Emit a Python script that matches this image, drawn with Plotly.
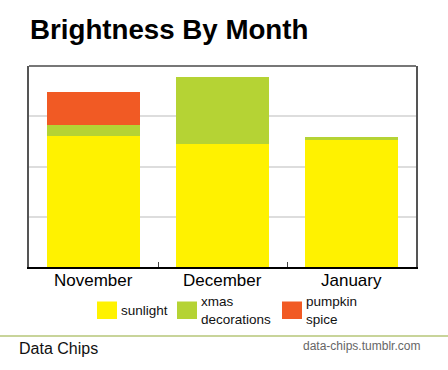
import plotly.graph_objects as go

months = ["November", "December", "January"]
series_names = ["sunlight", "xmas<br>decorations", "pumpkin<br>spice"]
sunlight = [2.60, 2.45, 2.53]
xmas = [0.22, 1.33, 0.05]
pumpkin = [0.67, 0.0, 0.0]
colors = ["#fff200", "#b5d334", "#f15a24"]

W, H = 448, 370
L, R, T, B = 29, 32, 66, 103
PW, PH = W - L - R, H - T - B

def px(x):
    return (x - L) / PW

def py(y):
    return (H - B - y) / PH

fig = go.Figure()
for name, vals, col in zip(series_names, [sunlight, xmas, pumpkin], colors):
    fig.add_trace(go.Bar(x=months, y=vals, name=name, marker=dict(color=col, line=dict(width=0)),
                         showlegend=False))

shapes = []
annotations = []
# top frame line
shapes.append(dict(type="line", xref="paper", yref="paper", x0=0, x1=1, y0=1, y1=1,
                   line=dict(color="#777777", width=2)))
# footer line
shapes.append(dict(type="line", xref="paper", yref="paper", x0=px(0), x1=px(448), y0=py(336), y1=py(336),
                   line=dict(color="#c8d49a", width=2)))

# category labels
for m in months:
    annotations.append(dict(text=m, xref="x", yref="paper", x=m, y=py(280),
                            xanchor="center", yanchor="middle", showarrow=False,
                            font=dict(size=17, color="black", family="Liberation Sans, Arial")))

# legend
leg_x = [97, 177, 282]
for i, (name, col) in enumerate(zip(series_names, colors)):
    shapes.append(dict(type="rect", xref="paper", yref="paper", x0=px(leg_x[i]), x1=px(leg_x[i] + 20),
                       y0=py(319), y1=py(301.5), fillcolor=col, line=dict(width=0)))
    annotations.append(dict(text=name, xref="paper", yref="paper", x=px(leg_x[i] + 22), y=py(310.5),
                            xanchor="left", yanchor="middle", showarrow=False, align="left",
                            font=dict(size=13.5, color="#111111", family="Liberation Sans, Arial")))

annotations.append(dict(text="Data Chips", xref="paper", yref="paper", x=px(17), y=py(348),
                        xanchor="left", yanchor="middle", showarrow=False,
                        font=dict(size=16, color="#111111", family="Liberation Sans, Arial")))
annotations.append(dict(text="data-chips.tumblr.com", xref="paper", yref="paper", x=px(422), y=py(346),
                        xanchor="right", yanchor="middle", showarrow=False,
                        font=dict(size=12, color="#666666", family="Liberation Sans, Arial")))

fig.update_layout(
    width=W, height=H,
    margin=dict(l=L, r=R, t=T, b=B),
    barmode="stack", bargap=0.28,
    plot_bgcolor="white", paper_bgcolor="white",
    title=dict(text="<b>Brightness By Month</b>", xref="container", yref="container",
               x=30 / W, xanchor="left", y=1 - 29 / H, yanchor="middle",
               font=dict(size=27.7, color="black", family="Liberation Sans, Arial")),
    xaxis=dict(showline=True, linecolor="black", linewidth=1.5, ticks="inside", ticklen=5,
               tickson="boundaries", tickcolor="#444444", showticklabels=False,
               showgrid=False),
    yaxis=dict(range=[0, 4], dtick=1, showticklabels=False, showgrid=True, gridcolor="#dddddd",
               gridwidth=1.5, showline=True, linecolor="#555555", linewidth=2, mirror=True,
               zeroline=False, ticks=""),
    shapes=shapes, annotations=annotations,
)

fig.write_html("out.html", config={"displayModeBar": False},
               post_script="document.body.style.margin='0';document.body.style.overflow='hidden';")
